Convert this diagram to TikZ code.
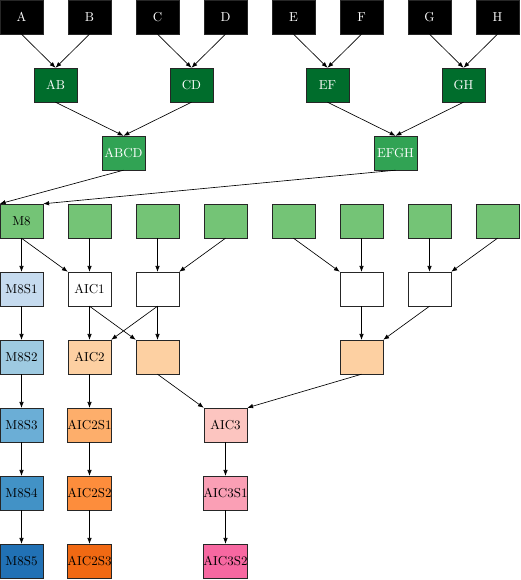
\documentclass[tikz,border=0pt]{standalone}
\usepackage{amsmath}
\usetikzlibrary{arrows.meta}

\definecolor{gdark}{HTML}{006D2C}
\definecolor{gmid}{HTML}{31A354}
\definecolor{glight}{HTML}{74C476}
\definecolor{bA}{HTML}{C6DBEF}
\definecolor{bB}{HTML}{9ECAE1}
\definecolor{bC}{HTML}{6BAED6}
\definecolor{bD}{HTML}{4292C6}
\definecolor{bE}{HTML}{2171B5}
\definecolor{oA}{HTML}{FDD0A2}
\definecolor{oB}{HTML}{FDAE6B}
\definecolor{oC}{HTML}{FD8D3C}
\definecolor{oD}{HTML}{F16913}
\definecolor{pA}{HTML}{FCC5C0}
\definecolor{pB}{HTML}{FA9FB5}
\definecolor{pC}{HTML}{F768A1}

\tikzset{
  box/.style={draw=black!85, line width=0.5pt, minimum width=33pt, minimum height=26pt, inner sep=0pt},
  leaf/.style={box, fill=black, text=white},
  pair/.style={box, fill=gdark, text=white},
  quad/.style={box, fill=gmid, text=white},
  gbox/.style={box, fill=glight},
  wbox/.style={box, fill=white},
  edge/.style={-{Latex[length=4.5pt,width=3.5pt]}, line width=0.5pt}
}

\begin{document}
\begin{tikzpicture}[x=0.77pt, y=-0.77pt]
\useasboundingbox (0,0) rectangle (520,580);
    % leaves
    \foreach \n [count=\i from 0] in {A,B,C,D,E,F,G,H}
        \node[leaf] (\n) at (21.5+68*\i,17) {\n};
    \node[pair] (AB) at (55.5,85) {AB};
    \node[pair] (CD) at (191.5,85) {CD};
    \node[pair] (EF) at (327.5,85) {EF};
    \node[pair] (GH) at (463.5,85) {GH};
    \node[quad] (ABCD) at (123.5,153) {ABCD};
    \node[quad] (EFGH) at (395.5,153) {EFGH};
    % green row
    \node[gbox] (M8) at (21.5,221) {M8};
    \foreach \i in {1,...,7}
        \node[gbox] (g\i) at (21.5+68*\i,221) {};
    % white row
    \node[box, fill=bA] (M8S1) at (21.5,289) {M8S1};
    \node[wbox] (AIC1) at (89.5,289) {AIC1};
    \node[wbox] (w2) at (157.5,289) {};
    \node[wbox] (w5) at (361.5,289) {};
    \node[wbox] (w6) at (429.5,289) {};
    % orange row
    \node[box, fill=bB] (M8S2) at (21.5,357) {M8S2};
    \node[box, fill=oA] (AIC2) at (89.5,357) {AIC2};
    \node[box, fill=oA] (o2) at (157.5,357) {};
    \node[box, fill=oA] (o5) at (361.5,357) {};
    % chains
    \node[box, fill=bC] (M8S3) at (21.5,425) {M8S3};
    \node[box, fill=bD] (M8S4) at (21.5,493) {M8S4};
    \node[box, fill=bE] (M8S5) at (21.5,561) {M8S5};
    \node[box, fill=oB] (AIC2S1) at (89.5,425) {AIC2S1};
    \node[box, fill=oC] (AIC2S2) at (89.5,493) {AIC2S2};
    \node[box, fill=oD] (AIC2S3) at (89.5,561) {AIC2S3};
    \node[box, fill=pA] (AIC3) at (225.5,425) {AIC3};
    \node[box, fill=pB] (AIC3S1) at (225.5,493) {AIC3S1};
    \node[box, fill=pC] (AIC3S2) at (225.5,561) {AIC3S2};

    \draw[edge] (A.south) -- (AB.north);
    \draw[edge] (B.south) -- (AB.north);
    \draw[edge] (C.south) -- (CD.north);
    \draw[edge] (D.south) -- (CD.north);
    \draw[edge] (E.south) -- (EF.north);
    \draw[edge] (F.south) -- (EF.north);
    \draw[edge] (G.south) -- (GH.north);
    \draw[edge] (H.south) -- (GH.north);
    \draw[edge] (AB.south) -- (ABCD.north);
    \draw[edge] (CD.south) -- (ABCD.north);
    \draw[edge] (EF.south) -- (EFGH.north);
    \draw[edge] (GH.south) -- (EFGH.north);
    \draw[edge] (ABCD.south) -- (M8.north west);
    \draw[edge] (EFGH.south) -- (M8.north east);

    \draw[edge] (M8.south) -- (M8S1.north);
    \draw[edge] (M8.south) -- (AIC1.north west);
    \draw[edge] (g1.south) -- (AIC1.north);
    \draw[edge] (g2.south) -- (w2.north);
    \draw[edge] (g3.south) -- (w2.north east);
    \draw[edge] (g4.south) -- (w5.north west);
    \draw[edge] (g5.south) -- (w5.north);
    \draw[edge] (g6.south) -- (w6.north);
    \draw[edge] (g7.south) -- (w6.north east);

    \draw[edge] (M8S1.south) -- (M8S2.north);
    \draw[edge] (AIC1.south) -- (AIC2.north);
    \draw[edge] (AIC1.south) -- (o2.north west);
    \draw[edge] (w2.south) -- (AIC2.north east);
    \draw[edge] (w2.south) -- (o2.north);
    \draw[edge] (w5.south) -- (o5.north);
    \draw[edge] (w6.south) -- (o5.north east);

    \draw[edge] (M8S2.south) -- (M8S3.north);
    \draw[edge] (M8S3.south) -- (M8S4.north);
    \draw[edge] (M8S4.south) -- (M8S5.north);
    \draw[edge] (AIC2.south) -- (AIC2S1.north);
    \draw[edge] (AIC2S1.south) -- (AIC2S2.north);
    \draw[edge] (AIC2S2.south) -- (AIC2S3.north);
    \draw[edge] (o2.south) -- (AIC3.north west);
    \draw[edge] (o5.south) -- (AIC3.north east);
    \draw[edge] (AIC3.south) -- (AIC3S1.north);
    \draw[edge] (AIC3S1.south) -- (AIC3S2.north);
\end{tikzpicture}
\end{document}
